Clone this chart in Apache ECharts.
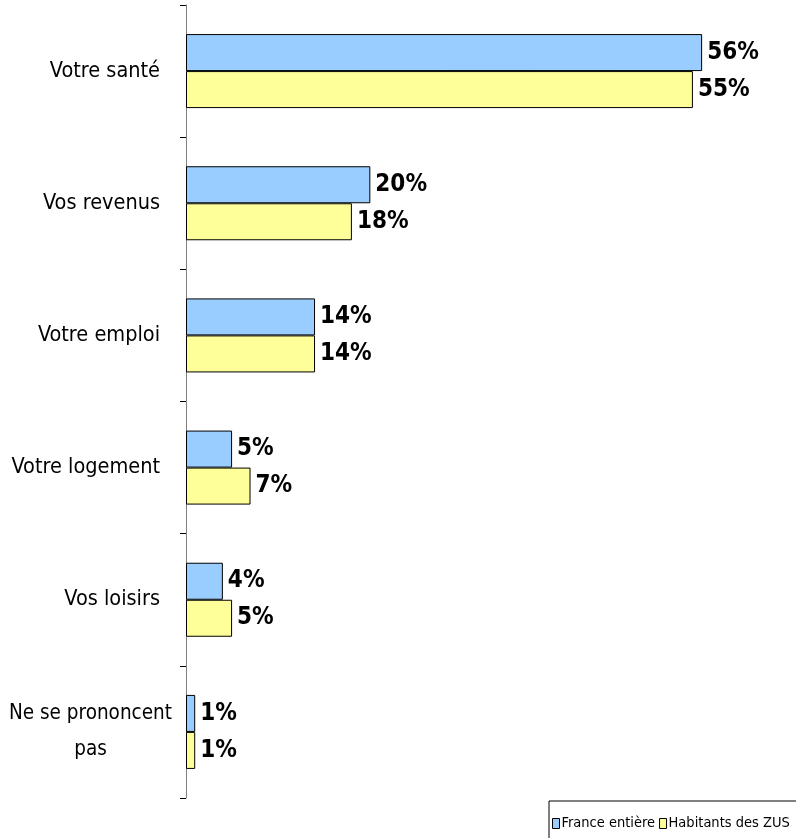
<!DOCTYPE html>
<html><head><meta charset="utf-8">
<script src="https://cdn.jsdelivr.net/npm/echarts@6/dist/echarts.min.js"></script>
<style>html,body{margin:0;padding:0;background:#fff}#c{width:796px;height:838px}</style>
</head><body><div id="c"></div>
<script>
const categories = ['Votre santé', 'Vos revenus', 'Votre emploi', 'Votre logement', 'Vos loisirs', 'Ne se prononcent\npas'];
const franceEntiere = [56, 20, 14, 5, 4, 1];
const habitantsZUS = [55, 18, 14, 7, 5, 1];
const seriesNames = ['France entière', 'Habitants des ZUS'];

const FONT = '"DejaVu Sans Condensed", "DejaVu Sans", sans-serif';
const chart = echarts.init(document.getElementById('c'));
const labelCfg = {
  show: true, position: 'right', distance: 5,
  formatter: p => p.value + '%',
  fontFamily: FONT, fontWeight: 'bold', fontSize: 24, color: '#000'
};
chart.setOption({
  animation: false,
  grid: { left: 186, top: 5, bottom: 40, right: 57, containLabel: false, outerBoundsMode: 'none' },
  xAxis: { type: 'value', min: 0, max: 60, show: false },
  yAxis: {
    type: 'category', inverse: true, data: categories,
    axisLine: { show: true, lineStyle: { color: '#808080', width: 1 } },
    axisTick: { show: true, length: 6, lineStyle: { color: '#000' } },
    axisLabel: {
      margin: 14, align: 'right',
      formatter: v => {
        const lines = v.split('\n');
        const key = lines.length > 1 ? 'n' : 'c';
        return lines.map(l => '{' + key + '|' + l + '}').join('\n');
      },
      rich: {
        c: { align: 'center', fontFamily: FONT, fontSize: 21.5, color: '#000', lineHeight: 36, padding: [0, 12, 0, 0] },
        n: { align: 'center', fontFamily: FONT, fontSize: 20.5, color: '#000', lineHeight: 36 }
      }
    }
  },
  legend: {
    left: 549, top: 801, width: 300,
    data: seriesNames,
    icon: 'rect',
    backgroundColor: '#fff', borderColor: '#000', borderWidth: 1,
    padding: [15, 10, 14, 3],
    itemWidth: 7, itemHeight: 10, itemGap: 4,
    itemStyle: { borderColor: '#000', borderWidth: 1 },
    textStyle: { fontFamily: FONT, fontSize: 14.5, color: '#000', padding: [0, 0, 0, -3] }
  },
  series: [
    { name: seriesNames[0], type: 'bar', data: franceEntiere, barGap: '0%', barCategoryGap: '44%',
      itemStyle: { color: '#99CCFF', borderColor: '#000', borderWidth: 1 }, label: labelCfg },
    { name: seriesNames[1], type: 'bar', data: habitantsZUS,
      itemStyle: { color: '#FFFF99', borderColor: '#000', borderWidth: 1 }, label: labelCfg }
  ]
});
</script></body></html>
